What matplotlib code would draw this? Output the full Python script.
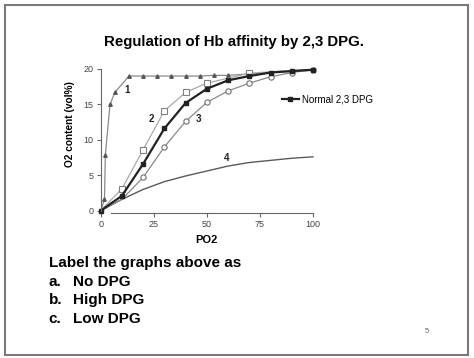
import numpy as np
import matplotlib
matplotlib.use('Agg')
import matplotlib.pyplot as plt
from matplotlib.patches import Rectangle

plt.rcParams['font.family'] = ['Liberation Sans', 'DejaVu Sans']

# -------------------------------------------
# curve 1 (triangles)
x1 = [0, 1.8, 2.2, 4.4, 6.7, 13.3, 20, 26.7, 33.3, 40, 46.7, 53.3, 60, 70, 80, 90, 100]
y1 = [0, 1.6, 7.9, 15.0, 16.7, 19.0, 19.0, 19.0, 19.0, 19.0, 19.0, 19.1, 19.1, 19.3, 19.5, 19.7, 19.8]
m1 = 13  # triangles only up to x=60

# curve 2 (open squares)
x2 = [0, 10, 20, 30, 40, 50, 70, 80, 90, 100]
y2 = [0, 3.1, 8.6, 14.1, 16.7, 18.0, 19.4, 19.6, 19.8, 19.9]
m2 = [1, 2, 3, 4, 5, 6]

# normal 2,3 DPG (filled squares)
xn = [0, 10, 20, 30, 40, 50, 60, 70, 80, 90, 100]
yn = [0, 2.1, 6.6, 11.6, 15.2, 17.2, 18.4, 19.0, 19.5, 19.7, 19.9]

# curve 3 (open circles)
x3 = [0, 10, 20, 30, 40, 50, 60, 70, 80, 90, 100]
y3 = [0, 1.6, 4.7, 9.0, 12.6, 15.3, 16.9, 18.0, 18.9, 19.5, 19.9]
m3 = [2, 3, 4, 5, 6, 7, 8, 9, 10]

# curve 4 (no markers)
x4 = [0, 10, 20, 30, 40, 50, 60, 70, 80, 90, 100]
y4 = [0, 1.6, 3.0, 4.1, 4.9, 5.6, 6.3, 6.8, 7.1, 7.4, 7.6]

curve_labels = ['1', '2', '3', '4']
label_pos = [(12.2, 17.1), (24, 13.0), (46, 13.0), (59.5, 7.5)]

bottom_lines = [('a.', 'No DPG'), ('b.', 'High DPG'), ('c.', 'Low DPG')]

# -------------------------------------------

fig = plt.figure(figsize=(4.74, 3.58), dpi=100)
fig.patch.set_facecolor('white')
fig.patches.append(Rectangle((5/474, 3/358), 463/474, 350/358, transform=fig.transFigure,
                             fill=False, edgecolor='#7a7a7a', linewidth=1.5))

ax = fig.add_axes([0.2124, 0.4115, 0.4479, 0.3958])

ax.plot(x4, y4, color='#5a5a5a', lw=1.0, clip_on=False)
ax.plot(x1, y1, color='#8a8a8a', lw=0.9, clip_on=False)
ax.plot(x1[:m1], y1[:m1], ls='none', marker='^', ms=2.5, color='#555555', clip_on=False)
ax.plot(x3, y3, color='#8a8a8a', lw=0.9, clip_on=False)
ax.plot([x3[i] for i in m3], [y3[i] for i in m3], ls='none', marker='o', ms=3.8,
        mfc='white', mec='#707070', mew=0.8, clip_on=False)
ax.plot(x2, y2, color='#aaaaaa', lw=0.9, clip_on=False)
ax.plot([x2[i] for i in m2], [y2[i] for i in m2], ls='none', marker='s', ms=4.2,
        mfc='white', mec='#808080', mew=0.8, clip_on=False)
ax.plot(xn, yn, color='#222222', lw=1.6, marker='s', ms=3.3, mfc='#222222', mec='#222222',
        clip_on=False, label='Normal 2,3 DPG')

for t, (lx, ly) in zip(curve_labels, label_pos):
    ax.text(lx, ly, t, fontsize=7, fontweight='bold', color='#222222', ha='center', va='center')

ax.set_xlim(0, 100)
ax.set_ylim(0, 20)
ax.set_xticks([0, 25, 50, 75, 100])
ax.set_yticks([0, 5, 10, 15, 20])
for s in ['top', 'right']:
    ax.spines[s].set_visible(False)
ax.spines['bottom'].set_bounds(5, 100)
ax.spines['bottom'].set_position(('outward', 2))
for s in ['left', 'bottom']:
    ax.spines[s].set_color('#666666')
    ax.spines[s].set_linewidth(0.8)
ax.tick_params(labelsize=6.5, labelcolor='#444444', color='#666666', length=3, width=0.8, pad=2)

ax.set_xlabel('PO2', fontsize=8, fontweight='bold', labelpad=4)
ax.set_ylabel('O2 content (vol%)', fontsize=7.3, fontweight='bold')
ax.yaxis.set_label_coords(-0.121, 0.612)

ax.legend(loc='center left', bbox_to_anchor=(0.855, 0.788), frameon=False, fontsize=7,
          handlelength=1.7, handletextpad=0.3, borderpad=0, borderaxespad=0)

fig.text(0.494, 0.883, 'Regulation of Hb affinity by 2,3 DPG.', fontsize=10.8,
         fontweight='bold', ha='center', va='center')

fig.text(0.103, 0.265, 'Label the graphs above as', fontsize=11, fontweight='bold',
         ha='left', va='center')
for i, (a, b) in enumerate(bottom_lines):
    yy = 0.212 - i * 0.051
    fig.text(0.103, yy, a, fontsize=11, fontweight='bold', ha='left', va='center')
    fig.text(0.154, yy, b, fontsize=11, fontweight='bold', ha='left', va='center')

fig.text(0.901, 0.073, '5', fontsize=5.5, color='#666666', ha='center', va='center')

fig.savefig('out.png', dpi=100)
